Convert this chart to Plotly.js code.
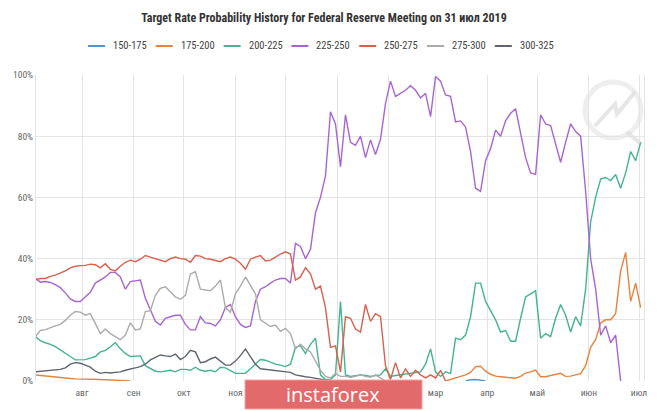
<!DOCTYPE html>
<html>
<head>
<meta charset="utf-8">
<script src="https://cdn.plot.ly/plotly-3.0.1.min.js"></script>
<style>html,body{margin:0;padding:0;background:#fff;}#chart{width:665px;height:411px;}</style>
</head>
<body>
<div id="chart"></div>
<script>
// ---- data (values in %, sampled every 3 days starting 2018-07-04) ----
const startDate = '2018-07-04';
const stepDays = 3;
const nPoints = 122;

const seriesNames = ['150-175','175-200','200-225','225-250','250-275','275-300','300-325'];
const seriesColors = ['#5596cf','#e8833d','#43b491','#a865d2','#d8604f','#ababab','#5d6570'];

const monthTickDates = ['2018-08-01','2018-09-01','2018-10-01','2018-11-01','2018-12-01','2019-01-01',
  '2019-02-01','2019-03-01','2019-04-01','2019-05-01','2019-06-01','2019-07-01'];
// дек, янв, фев are hidden behind the banner in the reference
const monthTickLabels = ['авг','сен','окт','ноя','','','','мар','апр','май','июн','июл'];

// 150-175 (only a tiny blip near zero)
const blue_lead = 86;
const blue_vals = [0, 0.4, 0.5, 0.3, 0];

// 175-200
const orange_early = [2,1.8,1.6,1.4,1.2,1,0.9,0.8,0.7,0.7,0.6,0.6,0.5,0.5,0.4,0.4,0.3,0.2,0.1,0];
const orange_gap = 62;
const orange_late = [0,0.5,
  1,1.4,2,2.8,4.7,4.8,3.2,2.2,1.6,1.4,
  1.3,1,0.9,1.5,2.6,3,3.6,1.4,1.4,1.8,
  2.2,2.5,1.5,1.6,2,2.4,5,11,13.5,19,
  20,20,22,36,42,26,32,24];

// 200-225
const teal_vals = [14.5,13.2,12.5,12,11.2,10.2,9.2,8,6.9,6.9,
  7,7.5,8,9.5,10,11.2,12.5,10.5,9,8,
  8,8.2,5,4.2,3.2,3,3.3,3.5,3,3.8,
  3.8,3.5,4.5,3.5,3.2,3.5,3,4.5,4.3,3.5,
  2.5,2.5,2.5,4,5.5,7,6.8,6.2,5.5,5.2,
  4.7,5.5,11,11.5,9,12,14,2,0.5,0.5,
  2,26,2,1.5,1.8,2,1.8,1.5,1.8,2,
  4,1.5,1.8,2,2.2,2.5,2.8,3,5.5,10.5,
  3,1.5,3,2.5,14,13.5,15,21,32,32,
  26,23,20,16,16.5,13,13,20.5,27.5,28.5,
  29.5,14,15.5,14.5,20.5,25,21.5,16,21,18,
  30,52,60,66,66.5,65.5,67.5,63,68,75,
  72,78];

// 225-250
const purple_vals = [33.6,32.3,32.5,32.2,31.5,30.5,28.8,26.8,26,26,
  27.5,29,32,33,34,35.5,35.5,34,30,32.5,
  32.8,33,27,23,19.5,18.3,20.5,21,21.5,21.5,
  18.5,16.7,16.7,21,19,18.8,18,20,24,25,
  21,18.5,17.5,18,26,30,30.8,32,33,33.5,
  33.5,32,45,44,40,43,55,60,67,88,
  84,70,87,78,77,80,73,78.8,74,79,
  90.7,98,93,94,95,96.5,95,92.5,94,86.4,
  99.5,98,93.5,93,84.7,85,83,75,63,62,
  72,76,82,80,85,87.5,89,81,73,68,
  67.5,87,84,83.5,77.5,71.5,78,84,81.5,80,
  62,40,30,15,18,12.5,15,0];

// 250-275
const red_vals = [33,33.5,33.5,34.2,34.6,35.3,36,37,37.5,37.7,
  37.8,38.2,38,37,38.3,36.5,36,37.5,38.8,39.5,
  39,39.8,41,40.5,40,39.5,39,40,40.5,40,
  39.8,38.8,41,40.8,40,39.8,39.5,39,40,40.5,
  39.8,38.5,36.5,39.8,40.5,41,39.2,39.5,40.5,41.5,
  42.2,41.5,33,34,37,35,30,31,24,11,
  11.5,3,21,20.5,17,16,25,19.5,22,21,
  5,0.5,6,1,4,1.5,3.5,2,1,2,
  1,3.5,0];

// 275-300
const gray_vals = [14.5,16.5,16.8,17.5,18,18.5,19.8,21.5,22.7,22.5,
  21.5,22,18.5,15.5,17,15.5,14.5,13.5,15,19,
  16.7,17,22.7,23,28,30.3,30.8,29,27.5,26.7,
  28,35,35.7,30,29.7,29.5,31,33,24,22.5,
  28.5,31,34,31,28.5,20,19,17.8,18.3,16.2,
  17.2,15.5,10.5,12,10.5,9.5,6.5,3.5,1.5,1,
  2.5,1.5,1.5,1.2,1.5,2,1.5,1.2,2,1,
  0];

// 300-325
const dark_vals = [3,3.2,3.3,3.4,3.6,3.8,4.3,5.5,6,5.8,
  5.2,4.5,3.2,2.5,2.8,2.6,2.8,3,3.5,3.8,
  4.3,4.7,5.5,6.9,7.8,8.5,8.2,8,8.8,7,
  8,10,9.5,6,6.3,7.2,7.8,6.5,5.2,5.2,
  6.5,8.3,10.5,8,5.5,4,3.8,3.6,3.6,3.2,
  3,2.8,2,1.6,1.4,1.2,0.9,0.5,0.2,0];

// ---- build ----
function pad(arr, lead) {
  const out = Array(lead).fill(null).concat(arr);
  while (out.length < nPoints) out.push(null);
  return out.slice(0, nPoints);
}
const t0 = Date.parse(startDate + 'T00:00:00Z');
const dates = [];
for (let k = 0; k < nPoints; k++) {
  dates.push(new Date(t0 + k * stepDays * 86400000).toISOString().slice(0, 10));
}
const seriesValues = [
  pad(blue_vals, blue_lead),
  pad(orange_early.concat(Array(orange_gap).fill(null), orange_late), 0),
  pad(teal_vals, 0),
  pad(purple_vals, 0),
  pad(red_vals, 0),
  pad(gray_vals, 0),
  pad(dark_vals, 0)
];

const traces = seriesNames.map((name, i) => ({
  type: 'scatter', mode: 'lines', name: name,
  x: dates, y: seriesValues[i],
  line: {color: seriesColors[i], width: 1.4},
  connectgaps: false, hoverinfo: 'skip', showlegend: false
}));

// ---- layout helpers (pixel geometry of the plot area) ----
const W = 665, H = 411, PL = 36, PR = 644, PT = 75, PB = 381;
const px2x = p => (p - PL) / (PR - PL);
const px2y = p => (PB - p) / (PB - PT);

const cond = '"Roboto Condensed", "DejaVu Sans Condensed", sans-serif';

// custom legend (short line symbols like the reference)
const legStart = 88, legStep = 67.8, legSym = 17, legTextOff = 23, legY = 46;
const shapes = [];
const annotations = [];
seriesNames.forEach((name, i) => {
  const x0 = legStart + i * legStep;
  shapes.push({type: 'line', xref: 'paper', yref: 'paper',
    x0: px2x(x0), x1: px2x(x0 + legSym), y0: px2y(legY), y1: px2y(legY),
    line: {color: seriesColors[i], width: 2}});
  annotations.push({text: name, xref: 'paper', yref: 'paper',
    x: px2x(x0 + legTextOff), y: px2y(legY), xanchor: 'left', yanchor: 'middle',
    showarrow: false, font: {family: cond, size: 10.5, color: '#444444'}});
});

// faint logo watermark (top right)
shapes.push({type: 'circle', xref: 'paper', yref: 'paper', xsizemode: 'pixel', ysizemode: 'pixel',
  xanchor: px2x(613), yanchor: px2y(110), x0: -28, x1: 28, y0: -28, y1: 28,
  line: {color: 'rgba(232,232,232,0.75)', width: 5}, layer: 'below'});
shapes.push({type: 'path', xref: 'paper', yref: 'paper', xsizemode: 'pixel', ysizemode: 'pixel',
  xanchor: px2x(613), yanchor: px2y(110),
  path: 'M -18,-16 L 2,6 L 4,-4 L 22,18 M 14,-22 L 28,-34',
  line: {color: 'rgba(222,222,222,0.75)', width: 4}, layer: 'below'});

// instaforex banner
shapes.push({type: 'rect', xref: 'paper', yref: 'paper',
  x0: px2x(245), x1: px2x(422), y0: px2y(380), y1: px2y(409),
  fillcolor: '#e36a6a', line: {color: '#f2a3a3', width: 1}, layer: 'above'});
annotations.push({text: 'instaforex', xref: 'paper', yref: 'paper', x: px2x(333), y: px2y(394),
  xanchor: 'center', yanchor: 'middle', showarrow: false,
  font: {family: '"Open Sans", Roboto, sans-serif', size: 20, color: '#ffffff'}});

const layout = {
  width: W, height: H,
  margin: {l: PL, r: W - PR, t: PT, b: H - PB},
  paper_bgcolor: '#ffffff', plot_bgcolor: '#ffffff',
  title: {
    text: '<b>Target Rate Probability History for Federal Reserve Meeting on 31 июл 2019</b>',
    font: {family: cond, size: 12, color: '#333333'},
    x: 324 / W, xref: 'container', xanchor: 'center', y: 1 - 18 / H, yref: 'container', yanchor: 'middle'
  },
  showlegend: false,
  xaxis: {
    type: 'date',
    range: ['2018-07-04 10:00', '2019-07-04'],
    tickmode: 'array', tickvals: monthTickDates, ticktext: monthTickLabels,
    tickfont: {family: cond, size: 9.5, color: '#666666'},
    ticklabelstandoff: 4,
    showgrid: true, gridcolor: '#e4e4e4', gridwidth: 1,
    zeroline: false, showline: false, ticks: '', fixedrange: true
  },
  yaxis: {
    range: [0, 100], tickmode: 'linear', tick0: 0, dtick: 20, ticksuffix: '%',
    tickfont: {family: cond, size: 9.5, color: '#666666'},
    showgrid: true, gridcolor: '#e4e4e4', gridwidth: 1,
    zeroline: false, showline: true, mirror: true, linecolor: '#e4e4e4', linewidth: 1,
    ticks: '', fixedrange: true
  },
  shapes: shapes,
  annotations: annotations
};

Plotly.newPlot('chart', traces, layout, {displayModeBar: false, staticPlot: true});
</script>
</body>
</html>
